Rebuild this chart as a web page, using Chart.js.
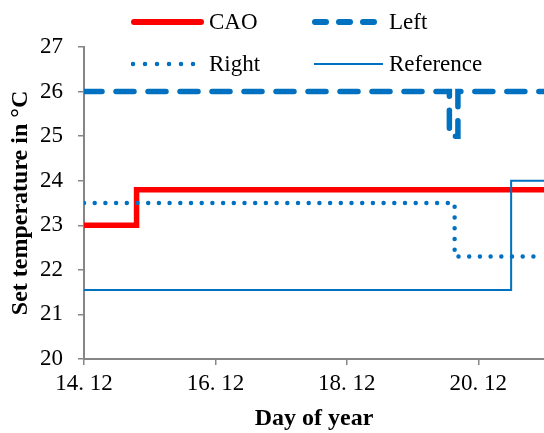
<!DOCTYPE html>
<html>
<head>
<meta charset="utf-8">
<script src="https://cdn.jsdelivr.net/npm/chart.js@4/dist/chart.umd.min.js"></script>
<style>
    body { margin: 0; background: #fff; }
    #wrap { position: relative; width: 544px; height: 433px; }
    .leg { position: absolute; font-family: "Liberation Serif", serif; font-size: 23px; color: #000; line-height: 26px; white-space: nowrap; }
    .leg svg { position: absolute; }
</style>
</head>
<body>
<div id="wrap">
    <canvas id="tempChart"></canvas>
    <div class="leg" style="left:131px;top:9px;"><svg width="80" height="26" style="left:0;top:0"><line x1="3" y1="13" x2="70" y2="13" stroke="#FF0000" stroke-width="6" stroke-linecap="round"/></svg><span style="position:absolute;left:78px;top:0">CAO</span></div>
    <div class="leg" style="left:311px;top:9px;"><svg width="80" height="26" style="left:0;top:0"><line x1="4" y1="13" x2="64" y2="13" stroke="#0070C0" stroke-width="6" stroke-linecap="round" stroke-dasharray="11 13"/></svg><span style="position:absolute;left:78px;top:0">Left</span></div>
    <div class="leg" style="left:131px;top:51px;"><svg width="80" height="26" style="left:0;top:0"><line x1="2" y1="13" x2="64" y2="13" stroke="#0070C0" stroke-width="4.5" stroke-linecap="round" stroke-dasharray="0 12"/></svg><span style="position:absolute;left:78px;top:0">Right</span></div>
    <div class="leg" style="left:311px;top:51px;"><svg width="80" height="26" style="left:0;top:0"><line x1="3" y1="13" x2="72" y2="13" stroke="#0070C0" stroke-width="2"/></svg><span style="position:absolute;left:78px;top:0">Reference</span></div>
</div>
<script>
// step breakpoints: day of December and set temperature
const caoDays = [14, 14.8, 21];
const caoTemps = [23.0, 23.8, 23.8];
const leftDays = [14, 19.56, 19.69, 21];
const leftTemps = [26.0, 25.0, 26.0, 26.0];
const rightDays = [14, 19.64, 21];
const rightTemps = [23.5, 22.3, 22.3];
const refDays = [14, 20.5, 21];
const refTemps = [21.55, 24.0, 24.0];

const xTicks = [14, 16, 18, 20];
const xTickLabels = ['14. 12', '16. 12', '18. 12', '20. 12'];

const axisGray = '#868686';
const serif = "'Liberation Serif', 'Times New Roman', serif";

function points(days, temps) {
    return days.map((d, i) => ({ x: d, y: temps[i] }));
}

new Chart(document.getElementById('tempChart'), {
    type: 'line',
    data: {
        datasets: [
            {
                label: 'Reference',
                data: points(refDays, refTemps),
                borderColor: '#0070C0',
                borderWidth: 2,
                stepped: true
            },
            {
                label: 'Right',
                data: points(rightDays, rightTemps),
                borderColor: '#0070C0',
                borderWidth: 4.5,
                borderDash: [0, 10.7],
                borderCapStyle: 'round',
                stepped: true
            },
            {
                label: 'CAO',
                data: points(caoDays, caoTemps),
                borderColor: '#FF0000',
                borderWidth: 5.5,
                borderJoinStyle: 'miter',
                stepped: true
            },
            {
                label: 'Left',
                data: points(leftDays, leftTemps),
                borderColor: '#0070C0',
                borderWidth: 5.5,
                borderDash: [18, 14],
                borderCapStyle: 'round',
                stepped: true
            }
        ]
    },
    options: {
        responsive: true,
        maintainAspectRatio: false,
        animation: false,
        elements: { point: { radius: 0 } },
        layout: { padding: { top: 47, right: 0, bottom: 0, left: 0 } },
        plugins: {
            legend: { display: false },
            tooltip: { enabled: false }
        },
        scales: {
            x: {
                type: 'linear',
                min: 14,
                max: 21,
                afterBuildTicks: (axis) => { axis.ticks = xTicks.map(v => ({ value: v })); },
                afterFit: (axis) => { axis.height = 74; },
                grid: { drawOnChartArea: false, color: axisGray, tickLength: 6, lineWidth: 1.5 },
                border: { color: axisGray, width: 2 },
                ticks: {
                    color: '#000',
                    font: { family: serif, size: 23 },
                    padding: 5,
                    maxRotation: 0,
                    callback: (v, i) => xTickLabels[i]
                },
                title: {
                    display: true,
                    text: 'Day of year',
                    color: '#000',
                    font: { family: serif, size: 24, weight: 'bold' },
                    padding: { top: 0, bottom: 0 }
                }
            },
            y: {
                min: 20,
                max: 27,
                afterFit: (axis) => { axis.width = 84; },
                grid: { drawOnChartArea: false, color: axisGray, tickLength: 6, lineWidth: 1.5 },
                border: { color: axisGray, width: 2 },
                ticks: {
                    stepSize: 1,
                    color: '#000',
                    font: { family: serif, size: 23 },
                    padding: 15
                },
                title: {
                    display: true,
                    text: 'Set temperature in °C',
                    color: '#000',
                    font: { family: serif, size: 24, weight: 'bold' },
                    padding: { top: 6, bottom: 0 }
                }
            }
        }
    }
});
</script>
</body>
</html>
